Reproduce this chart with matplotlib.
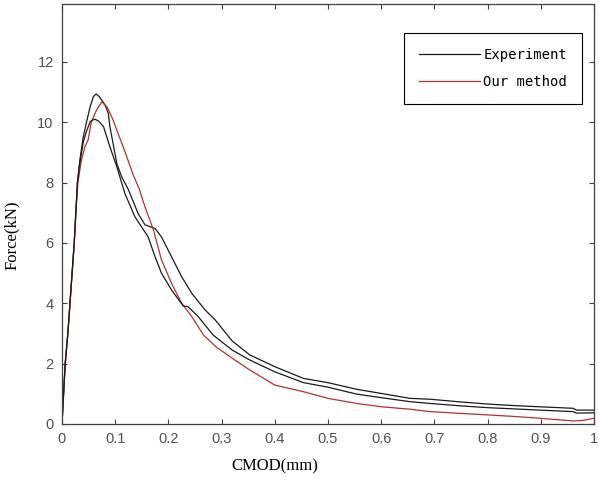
import matplotlib
matplotlib.use("Agg")
import matplotlib.pyplot as plt

# CMOD (mm) / Force (kN)
exp1_x = [0, 0.003, 0.006, 0.011, 0.015, 0.019, 0.023, 0.026, 0.029, 0.034, 0.040, 0.046,
          0.053, 0.059, 0.064, 0.070, 0.076, 0.081, 0.087, 0.090, 0.096, 0.103, 0.112, 0.125,
          0.143, 0.156, 0.175, 0.187, 0.206, 0.225, 0.244, 0.269, 0.288, 0.320, 0.353, 0.400,
          0.454, 0.500, 0.554, 0.601, 0.654, 0.692, 0.750, 0.801, 0.850, 0.898, 0.961, 0.967, 1.0]
exp1_y = [0, 1, 2, 3, 4, 5, 6, 7, 8, 8.8, 9.52, 10.0,
          10.52, 10.85, 10.94, 10.85, 10.7, 10.57, 10.3, 9.86, 9.3, 8.64, 8.2, 7.76,
          6.98, 6.6, 6.48, 6.2, 5.54, 4.88, 4.33, 3.78, 3.45, 2.75, 2.29, 1.9,
          1.51, 1.37, 1.15, 1.01, 0.85, 0.82, 0.73, 0.66, 0.61, 0.57, 0.52, 0.46, 0.46]

exp2_x = [0, 0.003, 0.006, 0.011, 0.015, 0.019, 0.023, 0.026, 0.029, 0.034, 0.040, 0.046,
          0.053, 0.058, 0.062, 0.068, 0.078, 0.090, 0.103, 0.118, 0.137, 0.162, 0.175, 0.187,
          0.206, 0.228, 0.237, 0.256, 0.284, 0.320, 0.353, 0.400, 0.454, 0.500, 0.554, 0.601,
          0.654, 0.692, 0.750, 0.801, 0.850, 0.898, 0.961, 0.967, 1.0]
exp2_y = [0, 1, 2, 3, 4, 5, 6, 7, 8, 8.7, 9.35, 9.7,
          10.02, 10.08, 10.1, 10.05, 9.86, 9.19, 8.53, 7.65, 6.87, 6.2, 5.54, 5.0,
          4.44, 3.91, 3.89, 3.56, 2.95, 2.45, 2.12, 1.73, 1.37, 1.22, 0.99, 0.87,
          0.74, 0.68, 0.6, 0.54, 0.5, 0.46, 0.41, 0.36, 0.37]

model_x = [0, 0.003, 0.006, 0.011, 0.015, 0.019, 0.023, 0.026, 0.030, 0.036, 0.043, 0.049,
           0.055, 0.065, 0.075, 0.085, 0.096, 0.105, 0.115, 0.125, 0.134, 0.145, 0.156, 0.172,
           0.187, 0.206, 0.225, 0.244, 0.266, 0.290, 0.320, 0.353, 0.400, 0.454, 0.500, 0.554,
           0.601, 0.654, 0.692, 0.750, 0.801, 0.850, 0.898, 0.961, 0.980, 1.0]
model_y = [0, 1, 2, 3, 4, 5, 6, 7, 8, 8.7, 9.19, 9.41,
           10.0, 10.41, 10.68, 10.5, 10.08, 9.65, 9.19, 8.7, 8.25, 7.8, 7.2, 6.43,
           5.44, 4.66, 4.0, 3.56, 2.95, 2.55, 2.18, 1.79, 1.29, 1.07, 0.85, 0.68,
           0.57, 0.49, 0.41, 0.35, 0.3, 0.25, 0.19, 0.1, 0.12, 0.19]

x_ticks = [0, 0.1, 0.2, 0.3, 0.4, 0.5, 0.6, 0.7, 0.8, 0.9, 1]
x_labels = ["0", "0.1", "0.2", "0.3", "0.4", "0.5", "0.6", "0.7", "0.8", "0.9", "1"]
y_ticks = [0, 2, 4, 6, 8, 10, 12]

fig = plt.figure(figsize=(5.99, 4.84), dpi=100)
ax = fig.add_axes([0.1035, 0.124, 0.888, 0.8677])

ax.plot(exp1_x, exp1_y, color="#1a1a1a", lw=0.9, label="Experiment")
ax.plot(model_x, model_y, color="#b03232", lw=0.9, label="Our method")
ax.plot(exp2_x, exp2_y, color="#1a1a1a", lw=0.9)

ax.set_xlim(0, 1)
ax.set_ylim(0, 13.92)
ax.set_xticks(x_ticks)
ax.set_xticklabels(x_labels)
ax.set_yticks(y_ticks)
ax.tick_params(direction="in", top=True, right=True, length=3.5, width=0.8,
               labelsize=10.5, labelcolor="#505050", color="#404040", pad=6)
for lab in ax.get_xticklabels() + ax.get_yticklabels():
    lab.set_family("Liberation Sans")
for sp in ax.spines.values():
    sp.set_color("#404040")
    sp.set_linewidth(0.9)

ax.set_xlabel("CMOD(mm)", family="Liberation Serif", fontsize=12)
ax.xaxis.set_label_coords(0.40, -0.082)
ax.set_ylabel("Force(kN)", family="Liberation Serif", fontsize=12)
ax.yaxis.set_label_coords(-0.079, 0.45)

leg = ax.legend(loc="upper left", bbox_to_anchor=(0.643, 0.931), borderaxespad=0,
                handlelength=4.4, handletextpad=0.2, borderpad=1.1, labelspacing=0.9,
                fancybox=False, edgecolor="black", framealpha=1,
                prop={"family": "DejaVu Sans Mono", "size": 10})
leg.get_frame().set_linewidth(0.8)

fig.savefig("out.png", dpi=100)
